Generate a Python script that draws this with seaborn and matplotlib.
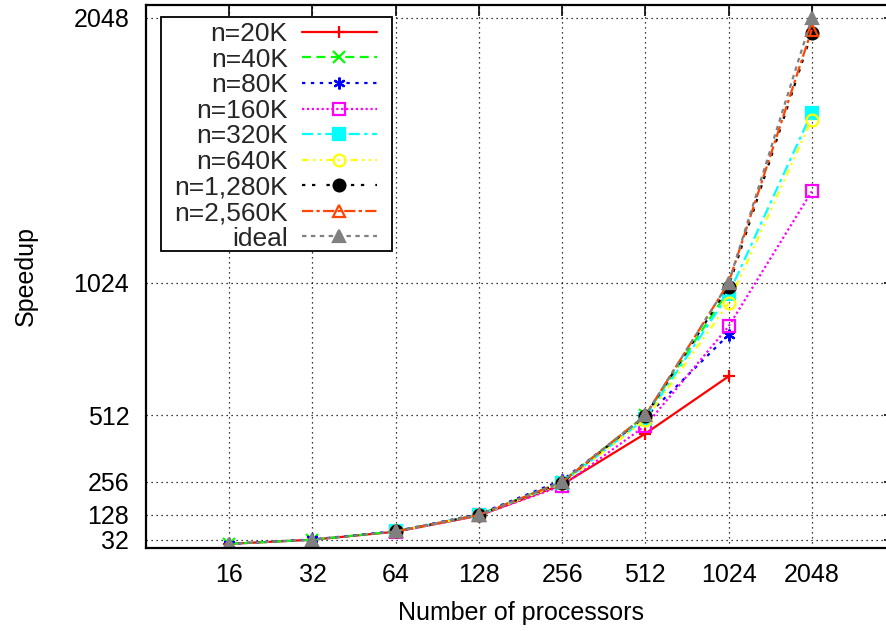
import matplotlib
matplotlib.use("Agg")
import matplotlib.pyplot as plt
import matplotlib.patches as mpatches
import seaborn as sns
import pandas as pd
import numpy as np

procs_small = [16, 32, 64, 128, 256, 512, 1024]
procs_large = [64, 128, 256, 512, 1024, 2048]
procs_ideal = [16, 32, 64, 128, 256, 512, 1024, 2048]

s20k = [16, 32, 63, 125, 245, 442, 663]
s40k = [16, 32, 64, 129, 256, 512, 995]
s80k = [16, 33, 65, 131, 262, 505, 824]
s160k = [62, 126, 240, 472, 856, 1378]
s320k = [64, 128, 250, 500, 980, 1682]
s640k = [64, 127, 250, 495, 946, 1655]
s1280k = [64, 128, 253, 510, 1010, 1991]
s2560k = [64, 128, 255, 512, 1024, 2003]
s_ideal = [16, 32, 64, 128, 256, 512, 1024, 2048]

labels = ["n=20K", "n=40K", "n=80K", "n=160K", "n=320K", "n=640K",
          "n=1,280K", "n=2,560K", "ideal"]
xticks = [16, 32, 64, 128, 256, 512, 1024, 2048]
yticks = [32, 128, 256, 512, 1024, 2048]

series = [
    (procs_small, s20k, "#ff0000", "+", "-", "none"),
    (procs_small, s40k, "#00ff00", "x", (0, (4, 2.5)), "none"),
    (procs_small, s80k, "#0000ff", (6, 2, 0), (0, (1.5, 2.5)), "none"),
    (procs_large, s160k, "#ff00ff", "s", (0, (1, 1.2)), "none"),
    (procs_large, s320k, "#00ffff", "s", (0, (5, 2, 1.5, 2)), "full"),
    (procs_large, s640k, "#ffff00", "o", (0, (3, 2, 1, 2, 1, 2)), "none"),
    (procs_large, s1280k, "#000000", "o", (0, (1.5, 3, 1.5, 5)), "full"),
    (procs_large, s2560k, "#ff4500", "^", (0, (5, 1.5, 1.5, 1.5)), "none"),
    (procs_ideal, s_ideal, "#808080", "^", (0, (2, 2)), "full"),
]

sns.set_theme(style="white")
plt.rcParams["font.family"] = ["Liberation Sans", "DejaVu Sans"]
FS = 18
LFS = 19
plt.rcParams["font.size"] = FS

W, H = 886, 631
fig = plt.figure(figsize=(W / 100, H / 100), dpi=100)
ax = fig.add_axes([146 / W, 83 / H, 749 / W, 543 / H])
ax.set_zorder(1)

for (xs, ys, col, mk, ls, fill), lab in zip(series, labels):
    df = pd.DataFrame({"p": xs, "s": ys})
    kw = dict(marker=mk, markersize=8.5, markeredgewidth=1.6,
              markeredgecolor=col, linewidth=1.6, linestyle=ls)
    kw["markerfacecolor"] = "none" if fill == "none" else col
    sns.lineplot(data=df, x="p", y="s", color=col, label=lab, ax=ax, **kw)

ax.set_xscale("log", base=2)
ax.set_xlim(8, 4096)
ax.set_ylim(0, 2098)
ax.set_xticks(xticks)
ax.set_xticklabels([str(t) for t in xticks])
ax.set_yticks(yticks)
ax.set_yticklabels([str(t) for t in yticks])
ax.minorticks_off()
ax.tick_params(axis="both", which="major", direction="in", length=8, width=1.2,
               top=True, right=True, labelsize=FS, colors="black")
ax.tick_params(axis="x", pad=11)
ax.tick_params(axis="y", pad=12)
ax.grid(True, which="major", color="black", linestyle=(0, (1, 3)), linewidth=0.9)
for sp in ax.spines.values():
    sp.set_color("black")
    sp.set_linewidth(1.6)

ax.set_xlabel("Number of processors", fontsize=FS, color="black", labelpad=10)
ax.set_ylabel("Speedup", fontsize=FS, color="black", labelpad=26)

handles, labs = ax.get_legend_handles_labels()
ax.get_legend().remove()
leg = fig.legend(handles, labs, loc="upper left",
                 bbox_to_anchor=(174 / W, 1 - 22 / H), borderaxespad=0,
                 markerfirst=False, frameon=False, fontsize=LFS,
                 handlelength=2.84, handletextpad=0.53, labelspacing=0.06,
                 borderpad=0.0)
leg.set_zorder(6)

# gnuplot-like key box around the legend
fig.canvas.draw()
bb = leg.get_window_extent(fig.canvas.get_renderer())
padl, padr, padt, padb = 13, 15, 5, 0
frame = mpatches.Rectangle(((bb.x0 - padl) / W, (bb.y0 - padb) / H),
                           (bb.width + padl + padr) / W,
                           (bb.height + padt + padb) / H,
                           transform=fig.transFigure, facecolor="white",
                           edgecolor="black", linewidth=1.3, zorder=4)
fig.add_artist(frame)

fig.savefig("out.png", dpi=100)
